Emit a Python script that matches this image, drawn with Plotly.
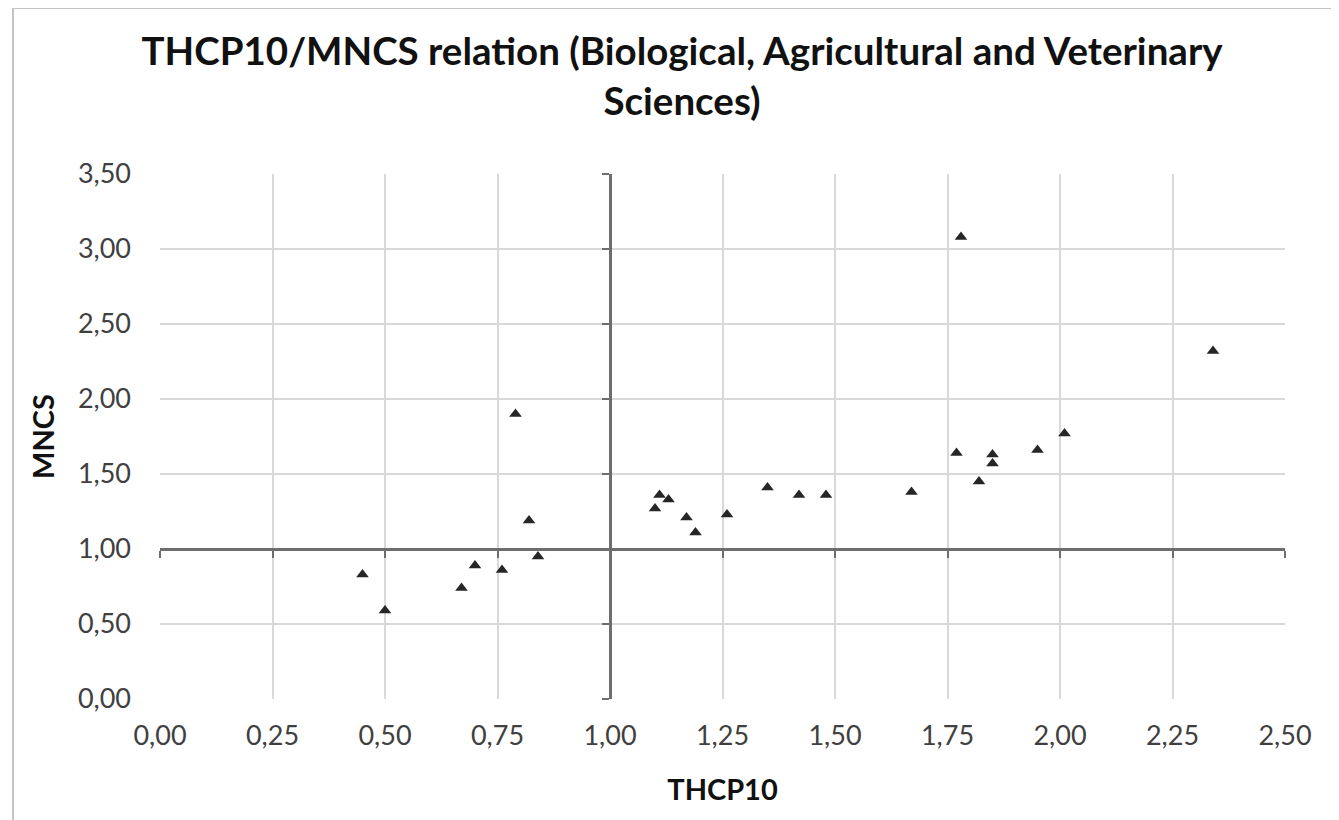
import plotly.graph_objects as go

# THCP10 (x) and MNCS (y) values
thcp10 = [0.45, 0.50, 0.67, 0.70, 0.76, 0.79, 0.82, 0.84,
          1.10, 1.11, 1.13, 1.17, 1.19, 1.26, 1.35, 1.42, 1.48,
          1.67, 1.77, 1.78, 1.82, 1.85, 1.85, 1.95, 2.01, 2.34]
mncs = [0.83, 0.59, 0.74, 0.89, 0.86, 1.90, 1.19, 0.95,
        1.27, 1.36, 1.33, 1.21, 1.11, 1.23, 1.41, 1.36, 1.36,
        1.38, 1.64, 3.08, 1.45, 1.63, 1.57, 1.66, 1.77, 2.32]

x_range = [0, 2.5]
y_range = [0, 3.5]
x_step = 0.25
y_step = 0.5
cross_x = 1.0
cross_y = 1.0

title_text = "THCP10/MNCS relation (Biological, Agricultural and Veterinary<br>Sciences)"
x_title = "THCP10"
y_title = "MNCS"

FONT = "Lato"
axis_col = "#6e6e6e"
grid_col = "#d9d9d9"
tick_col = "#404040"

W, H = 1331, 812
ML, MR, MT, MB = 152, 54, 166, 121
PW, PH = W - ML - MR, H - MT - MB

fig = go.Figure()
fig.add_trace(go.Scatter(
    x=thcp10, y=mncs, mode="markers",
    marker=dict(symbol="triangle-up", size=11, color="#262626"),
    showlegend=False,
))
# empty trace so the crossing axes are drawn
fig.add_trace(go.Scatter(x=[], y=[], xaxis="x2", yaxis="y2",
                         showlegend=False, hoverinfo="skip"))

fig.update_layout(
    width=W, height=H,
    paper_bgcolor="white", plot_bgcolor="white",
    separators=",.",
    margin=dict(l=ML, r=MR, t=MT, b=MB),
    font=dict(family=FONT, color=tick_col),
    title=dict(text="<b>" + title_text + "</b>", x=674 / W, xref="container",
               xanchor="center", y=1 - 57 / H, yref="container", yanchor="top",
               font=dict(family=FONT, size=38.5, color="#111111")),
    xaxis=dict(range=x_range, dtick=x_step, tick0=0, tickformat=".2f",
               showgrid=True, gridcolor=grid_col, gridwidth=1.5,
               zeroline=False, showline=False, ticks="",
               tickfont=dict(size=27, color=tick_col), ticklabelstandoff=18,
               title=dict(text="<b>" + x_title + "</b>", standoff=29,
                          font=dict(size=29, color="#111111"))),
    yaxis=dict(range=y_range, dtick=y_step, tick0=0, tickformat=".2f",
               showgrid=True, gridcolor=grid_col, gridwidth=1.5,
               zeroline=False, showline=False, ticks="",
               tickfont=dict(size=27, color=tick_col), ticklabelstandoff=28,
               title=dict(text="<b>" + y_title + "</b>", standoff=14,
                          font=dict(size=29, color="#111111"))),
    xaxis2=dict(overlaying="x", anchor="free",
                position=(cross_y - y_range[0]) / (y_range[1] - y_range[0]),
                range=x_range, dtick=x_step, tick0=0, side="bottom",
                showgrid=False, zeroline=False, showticklabels=False,
                showline=True, linecolor=axis_col, linewidth=3,
                ticks="outside", ticklen=7, tickwidth=2, tickcolor=axis_col),
    yaxis2=dict(overlaying="y", anchor="free",
                position=(cross_x - x_range[0]) / (x_range[1] - x_range[0]),
                range=y_range, dtick=y_step, tick0=0, side="left",
                showgrid=False, zeroline=False, showticklabels=False,
                showline=True, linecolor=axis_col, linewidth=3,
                ticks="outside", ticklen=7, tickwidth=2, tickcolor=axis_col),
    shapes=[dict(type="rect", xref="paper", yref="paper",
                 x0=(5 - ML) / PW, x1=1.2, y0=-0.5, y1=(PH + MT - 0) / PH,
                 line=dict(color="#c4c4c4", width=2), fillcolor="rgba(0,0,0,0)",
                 layer="below")],
)

fig.write_html("out.html")
